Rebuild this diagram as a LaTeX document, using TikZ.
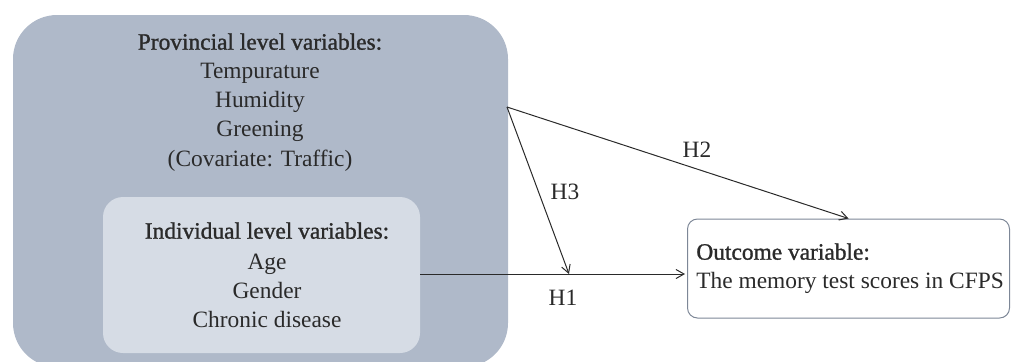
\documentclass[tikz,border=0pt]{standalone}
\usepackage{fontspec}
\setmainfont{Liberation Serif}
\newfontfamily\headfont{Liberation Serif}[FakeBold=1.2]
\usetikzlibrary{arrows.meta,calc}
\definecolor{outerfill}{HTML}{AFB9C9}
\definecolor{innerfill}{HTML}{D6DCE5}
\definecolor{boxline}{HTML}{7D8797}
\definecolor{ink}{HTML}{2A2A2A}
\tikzset{
  bigbox/.style={rounded corners=22pt, fill=outerfill, draw=none, inner sep=0pt, minimum width=247.5pt, minimum height=176pt},
  smallbox/.style={rounded corners=10pt, fill=innerfill, draw=none, inner sep=0pt, minimum width=158.5pt, minimum height=78pt},
  outbox/.style={rounded corners=5pt, fill=white, draw=boxline, line width=0.5pt, inner sep=0pt, minimum width=161pt, minimum height=49.5pt},
  txt/.style={inner sep=0pt, text=ink, font=\fontsize{11.7}{14.4}\selectfont},
  arr/.style={draw=ink, line width=0.5pt, -{Straight Barb[length=4pt,width=4.5pt,line width=0.5pt]}},
  hlab/.style={inner sep=0pt, text=ink, font=\fontsize{11.7}{14.4}\selectfont}
}
\begin{document}
\begin{tikzpicture}[x=0.5pt,y=-0.5pt]
\useasboundingbox (0,0) rectangle (1011,361);
\begin{scope}
\clip (0,0) rectangle (1011,361);
\node[bigbox] (outer) at (260.5,191) {};
\node[smallbox] (inner) at (261.5,275) {};
\node[outbox] (outcome) at (848.5,268.5) {};
\end{scope}
\node[txt, anchor=north, align=center] (prov) at (260,33)
  {{\headfont Provincial level variables:}\\Tempurature\\Humidity\\Greening\\[1pt](Covariate: Traffic)};
\node[txt, anchor=north, align=center] (indiv) at (267,222)
  {{\headfont Individual level variables:}\\[1pt]Age\\Gender\\Chronic disease};
\node[txt, anchor=north west, align=left] (outtxt) at (696,243)
  {{\headfont Outcome variable:}\\The memory test scores in CFPS};
\coordinate (src) at (507,107);
\coordinate (mod) at (569,274);
\draw[arr, shorten >=1pt] (inner.east |- mod) -- (outcome.west |- mod);
\draw[arr] (src) -- (mod);
\draw[arr] (src) -- (outcome.north);
\node[hlab] (h1) at (563,298) {H1};
\node[hlab] (h2) at (697,150) {H2};
\node[hlab] (h3) at (565,192) {H3};
\end{tikzpicture}
\end{document}
